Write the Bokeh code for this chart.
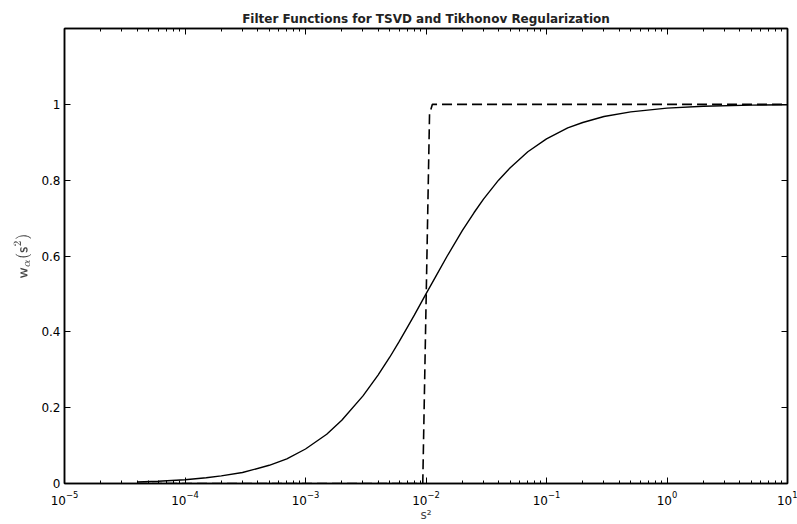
from bokeh.plotting import figure
from bokeh.models import LogAxis, LinearAxis, FixedTicker, Range1d
from bokeh.embed import file_html
from bokeh.resources import INLINE

# Tikhonov filter (solid)
s2_tik = [4e-5, 6e-5, 1e-4, 1.5e-4, 2e-4, 3e-4, 5e-4, 7e-4, 1e-3, 1.5e-3, 2e-3, 3e-3,
          4e-3, 5e-3, 6e-3, 7e-3, 8e-3, 1e-2, 1.2e-2, 1.5e-2, 2e-2, 2.5e-2, 3e-2, 4e-2,
          5e-2, 7e-2, 1e-1, 1.5e-1, 2e-1, 3e-1, 5e-1, 1.0, 2.0, 5.0, 10.0]
w_tik = [0.004, 0.006, 0.010, 0.015, 0.020, 0.029, 0.048, 0.065, 0.091, 0.130, 0.167, 0.231,
         0.286, 0.333, 0.375, 0.412, 0.444, 0.500, 0.545, 0.600, 0.667, 0.714, 0.750, 0.800,
         0.833, 0.875, 0.909, 0.938, 0.952, 0.968, 0.980, 0.990, 0.995, 0.998, 0.999]

# TSVD filter (dashed)
s2_tsvd = [4e-5, 9.4e-3, 1.07e-2, 1.13e-2, 10.0]
w_tsvd = [0.0, 0.0, 0.975, 1.0, 1.0]

x_major = [1e-5, 1e-4, 1e-3, 1e-2, 1e-1, 1e0, 1e1]
y_major = [0, 0.2, 0.4, 0.6, 0.8, 1.0]
y_labels = ["0", "0.2", "0.4", "0.6", "0.8", "1"]

x_minor = [m * d for d in x_major[:-1] for m in range(2, 10)]

FONT = "DejaVu Sans"

p = figure(width=797, height=524, x_axis_type="log",
           x_range=Range1d(1e-5, 10), y_range=Range1d(0, 1.2),
           output_backend="svg", toolbar_location=None,
           min_border_left=64, min_border_right=10, min_border_top=28, min_border_bottom=40)

p.title.text = "Filter Functions for TSVD and Tikhonov Regularization"
p.title.align = "center"
p.title.text_font = FONT
p.title.text_font_size = "12px"
p.title.text_font_style = "bold"
p.title.text_color = "#222222"
p.title.standoff = 5

p.xgrid.visible = False
p.ygrid.visible = False
p.outline_line_color = "black"
p.outline_line_width = 1.5
p.background_fill_color = "white"
p.border_fill_color = "white"

p.line(s2_tik, w_tik, line_color="black", line_width=1.4)
p.line(s2_tsvd, w_tsvd, line_color="black", line_width=1.6, line_dash="10 5")

def style(ax, labels=True):
    ax.axis_line_color = "black"
    ax.axis_line_width = 1.5
    ax.major_tick_in = 6
    ax.major_tick_out = 0
    ax.minor_tick_in = 3
    ax.minor_tick_out = 0
    ax.major_tick_line_color = "black"
    ax.minor_tick_line_color = "black"
    ax.major_label_text_font = FONT
    ax.major_label_text_font_size = "12px" if labels else "1px"
    ax.major_label_text_color = "black"
    ax.major_label_text_alpha = 1.0 if labels else 0.0
    ax.major_label_standoff = 7 if labels else 0

xa = p.xaxis[0]
xa.ticker = FixedTicker(ticks=x_major, minor_ticks=x_minor)
style(xa)
xa.axis_label = "s²"
xa.axis_label_text_font = FONT
xa.axis_label_text_font_size = "12px"
xa.axis_label_text_font_style = "normal"
xa.axis_label_standoff = 0

ya = p.yaxis[0]
ya.ticker = FixedTicker(ticks=y_major, minor_ticks=[])
ya.major_label_overrides = {v: t for v, t in zip(y_major, y_labels)}
style(ya)
ya.major_label_standoff = 4
ya.axis_label = r"$$\mathsf{w}_{\alpha}(\mathsf{s}^{2})$$"
ya.axis_label_text_font_size = "12px"
ya.axis_label_standoff = 7

top = LogAxis(ticker=FixedTicker(ticks=x_major, minor_ticks=x_minor))
style(top, labels=False)
p.add_layout(top, "above")

right = LinearAxis(ticker=FixedTicker(ticks=y_major, minor_ticks=[]))
style(right, labels=False)
p.add_layout(right, "right")

open("out.html", "w").write(file_html(p, INLINE))
